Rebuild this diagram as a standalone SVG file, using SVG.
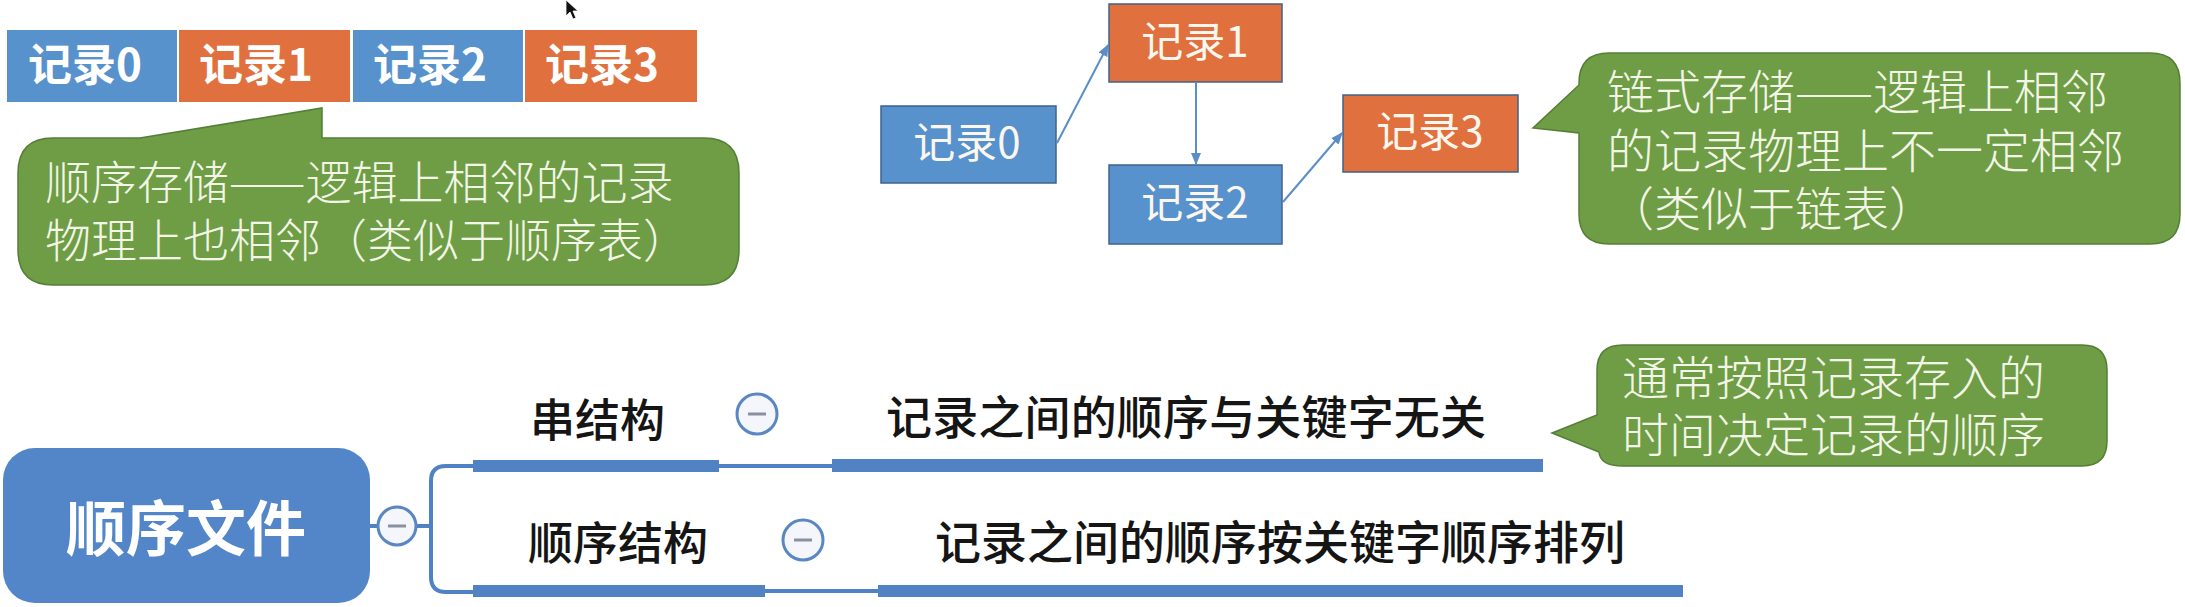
<svg xmlns="http://www.w3.org/2000/svg" width="2185" height="607" viewBox="0 0 2185 607">
<style>
.cjk{font-family:"Noto Sans CJK SC","Noto Sans",sans-serif}
.rowtxt{font-size:44px;font-weight:700;fill:#ffffff}
.boxtxt{font-size:42px;font-weight:400;fill:#fbf6ee;text-anchor:middle}
.calltxt{font-weight:300;fill:#f3f6e6}
.mmtxt{font-weight:500;fill:#151515}
.blue{fill:#5792cc}
.orange{fill:#e0713e}
.lbox{stroke:#3f628c;stroke-width:1.5}
.callout{fill:#6e9d46;stroke:#557e35;stroke-width:1.5}
.link{stroke:#5b8dc8;stroke-width:2;fill:none}
.mm{stroke:#4f82c4;fill:none;stroke-width:4}
.bar{fill:#5082c4}
.tog{fill:#f4f6fb;stroke:#5a86c2;stroke-width:3}
.minus{stroke:#8a90a2;stroke-width:3}
</style>
<defs>
<marker id="arr" viewBox="0 0 12 10" refX="11" refY="5" markerWidth="12" markerHeight="10" markerUnits="userSpaceOnUse" orient="auto">
<path d="M0,0 L12,5 L0,10 Z" fill="#5b8dc8"/>
</marker>
</defs>

<!-- cursor -->
<path d="M566,0 L566,16 L570,12 L573,19 L576,18 L573,11 L578,11 Z" fill="#111" stroke="#fff" stroke-width="0.8"/>

<!-- sequential row -->
<g id="row0"><rect class="blue" x="7" y="30" width="170" height="72"/><text class="cjk rowtxt" x="28" y="81">记录0</text></g>
<g id="row1"><rect class="orange" x="179" y="30" width="171" height="72"/><text class="cjk rowtxt" x="199" y="81">记录1</text></g>
<g id="row2"><rect class="blue" x="353" y="30" width="170" height="72"/><text class="cjk rowtxt" x="373" y="81">记录2</text></g>
<g id="row3"><rect class="orange" x="525" y="30" width="172" height="72"/><text class="cjk rowtxt" x="545" y="81">记录3</text></g>

<g id="callout1">
<path class="callout" d="M53,138 H140 L322,108 V138 H704 Q739,138 739,173 V250 Q739,285 704,285 H53 Q18,285 18,250 V173 Q18,138 53,138 Z"/>
<text class="cjk calltxt" font-size="46"><tspan x="45" y="199">顺序存储——逻辑上相邻的记录</tspan><tspan x="45" y="257">物理上也相邻（类似于顺序表）</tspan></text>
</g>

<!-- linked nodes -->
<g id="link0"><rect class="blue lbox" x="881" y="106" width="175" height="77"/><text class="cjk boxtxt" x="967" y="158">记录0</text></g>
<g id="link1"><rect class="orange lbox" x="1109" y="4" width="173" height="78"/><text class="cjk boxtxt" x="1195" y="57">记录1</text></g>
<g id="link2"><rect class="blue lbox" x="1109" y="165" width="173" height="79"/><text class="cjk boxtxt" x="1195" y="218">记录2</text></g>
<g id="link3"><rect class="orange lbox" x="1343" y="95" width="175" height="77"/><text class="cjk boxtxt" x="1430" y="147">记录3</text></g>

<g id="links">
<line class="link" x1="1057" y1="143" x2="1108" y2="45" marker-end="url(#arr)"/>
<line class="link" x1="1196" y1="82" x2="1196" y2="164" marker-end="url(#arr)"/>
<line class="link" x1="1283" y1="202" x2="1342" y2="133" marker-end="url(#arr)"/>
</g>

<g id="callout2">
<path class="callout" d="M1609,53 H2150 Q2180,53 2180,83 V214 Q2180,244 2150,244 H1609 Q1579,244 1579,214 V133 L1533,128 L1579,85 V83 Q1579,53 1609,53 Z"/>
<text class="cjk calltxt" font-size="47"><tspan x="1607" y="109">链式存储——逻辑上相邻</tspan><tspan x="1607" y="168">的记录物理上不一定相邻</tspan><tspan x="1607" y="226">（类似于链表）</tspan></text>
</g>

<!-- mind map -->
<g id="root">
<rect x="3" y="448" width="367" height="155" rx="32" fill="#5386c8"/>
<text class="cjk" x="186" y="551" font-size="60" font-weight="700" fill="#ffffff" text-anchor="middle">顺序文件</text>
</g>

<g id="mm-connectors">
<line class="mm" x1="370" y1="526" x2="378" y2="526"/>
<line class="mm" x1="416" y1="526" x2="431" y2="526"/>
<path class="mm" d="M474,466 H446 Q431,466 431,481 V577 Q431,592 446,592 H474"/>
<rect class="bar" x="473" y="460" width="246" height="12"/>
<line class="mm" x1="719" y1="466" x2="832" y2="466"/>
<rect class="bar" x="473" y="585" width="292" height="12"/>
<line class="mm" x1="765" y1="591" x2="878" y2="591"/>
</g>

<g id="toggle-root"><circle class="tog" cx="397" cy="526" r="19"/><line class="minus" x1="388" y1="526" x2="406" y2="526"/></g>

<g id="branch1">
<text class="cjk mmtxt" font-size="45" x="530" y="437">串结构</text>
<circle class="tog" cx="757" cy="414" r="20"/><line class="minus" x1="748" y1="414" x2="766" y2="414"/>
</g>
<g id="leaf1">
<text class="cjk mmtxt" font-size="46" x="886" y="434" textLength="600">记录之间的顺序与关键字无关</text>
<rect class="bar" x="832" y="459" width="711" height="13"/>
</g>

<g id="branch2">
<text class="cjk mmtxt" font-size="45" x="528" y="560">顺序结构</text>
<circle class="tog" cx="803" cy="540" r="20"/><line class="minus" x1="794" y1="540" x2="812" y2="540"/>
</g>
<g id="leaf2">
<text class="cjk mmtxt" font-size="46" x="935" y="559" textLength="690">记录之间的顺序按关键字顺序排列</text>
<rect class="bar" x="878" y="585" width="805" height="12"/>
</g>

<g id="callout3">
<path class="callout" d="M1623,345 H2082 Q2107,345 2107,370 V441 Q2107,466 2082,466 H1623 Q1600,466 1599,452 L1552,433 L1597,415 V370 Q1597,345 1623,345 Z"/>
<text class="cjk calltxt" font-size="47"><tspan x="1622" y="395">通常按照记录存入的</tspan><tspan x="1622" y="452">时间决定记录的顺序</tspan></text>
</g>
</svg>
